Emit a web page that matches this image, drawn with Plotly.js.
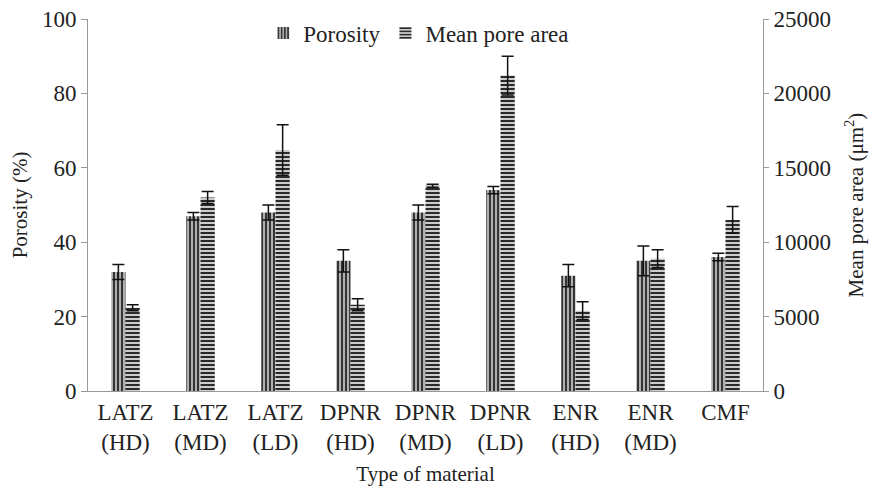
<!DOCTYPE html>
<html>
<head>
<meta charset="utf-8">
<script src="https://cdn.plot.ly/plotly-3.0.1.min.js"></script>
<style>html,body{margin:0;padding:0;background:#fff;}#chart{width:880px;height:492px;}</style>
</head>
<body>
<div id="chart"></div>
<script>
const categories = ["LATZ<br>(HD)", "LATZ<br>(MD)", "LATZ<br>(LD)", "DPNR<br>(HD)", "DPNR<br>(MD)", "DPNR<br>(LD)", "ENR<br>(HD)", "ENR<br>(MD)", "CMF"];
const porosity = [32, 47, 48, 35, 48, 54, 31, 35, 36];
const porosityErr = [2, 1, 2, 3, 2, 1, 3, 4, 1];
const poreArea = [5600, 13000, 16200, 5800, 13800, 21200, 5400, 8900, 11500];
const poreAreaErr = [200, 400, 1700, 400, 100, 1300, 600, 600, 900];
const leftTicks = [0, 20, 40, 60, 80, 100];
const rightTicks = [0, 5000, 10000, 15000, 20000, 25000];

const fam = "Liberation Serif, Times New Roman, serif";
const f = (size) => ({family: fam, color: "#222", size: size});

const traces = [
  {
    type: "bar", name: "Porosity", x: categories, y: porosity,
    width: 0.19, offset: -0.19, yaxis: "y",
    marker: {color: "#b0b0b0", line: {width: 0},
      pattern: {shape: "|", fgcolor: "#000", bgcolor: "#b0b0b0", size: 4, solidity: 0.35}},
    error_y: {type: "data", array: porosityErr, visible: true, color: "#111", thickness: 1.5, width: 6}
  },
  {
    type: "bar", name: "Mean pore area", x: categories, y: poreArea,
    width: 0.19, offset: 0, yaxis: "y2",
    marker: {color: "#cccccc", line: {width: 0},
      pattern: {shape: "-", fgcolor: "#000", bgcolor: "#cccccc", size: 4, solidity: 0.4}},
    error_y: {type: "data", array: poreAreaErr, visible: true, color: "#111", thickness: 1.5, width: 6}
  }
];

const layout = {
  width: 880, height: 492,
  margin: {l: 88, r: 117, t: 15, b: 101},
  paper_bgcolor: "#fff", plot_bgcolor: "#fff",
  font: f(22),
  showlegend: true,
  legend: {orientation: "h", x: 0.49, xanchor: "center", y: 1.02, yanchor: "top",
    font: f(23), bgcolor: "rgba(0,0,0,0)"},
  xaxis: {
    showline: true, linecolor: "#999", linewidth: 1, ticks: "", showgrid: false,
    tickfont: f(23), tickangle: 0,
    title: {text: "Type of material", font: f(21), standoff: 12}
  },
  yaxis: {
    range: [0, 100], tickvals: leftTicks, showgrid: false, zeroline: false,
    showline: true, linecolor: "#999", linewidth: 1, ticks: "outside", ticklen: 6, tickcolor: "#999",
    tickfont: f(23),
    title: {text: "Porosity (%)", font: f(21), standoff: 8}
  },
  yaxis2: {
    range: [0, 25000], tickvals: rightTicks, tickformat: "d", overlaying: "y", side: "right",
    showgrid: false, zeroline: false,
    showline: true, linecolor: "#999", linewidth: 1, ticks: "outside", ticklen: 5, tickcolor: "#999",
    tickfont: f(23),
    title: {text: "Mean pore area (μm<sup>2</sup>)", font: f(21), standoff: 18}
  }
};

Plotly.newPlot("chart", traces, layout, {displayModeBar: false, staticPlot: true});
</script>
</body>
</html>
